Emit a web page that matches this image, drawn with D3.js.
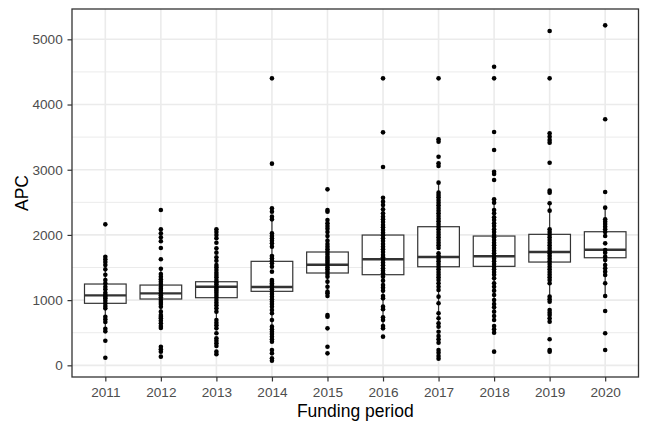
<!DOCTYPE html>
<html><head><meta charset="utf-8">
<script src="https://cdn.jsdelivr.net/npm/d3@7"></script>
<style>body{margin:0;background:#fff}svg{display:block}text{font-family:"Liberation Sans",Arial,Helvetica,sans-serif}</style>
</head><body><div id="chart"></div>
<script>
const categories = ["2011","2012","2013","2014","2015","2016","2017","2018","2019","2020"];
const yTicks = [0,1000,2000,3000,4000,5000];
const yMinor = [500,1500,2500,3500,4500];
// box statistics
const q1  = [951,1017,1037,1135,1416,1390,1512,1518,1584,1650];
const med = [1073,1104,1206,1201,1543,1626,1661,1672,1738,1773];
const q3  = [1247,1231,1282,1595,1738,1998,2126,1983,2009,2049];
// APC values per funding period
const apc2011 = [2162,1666,1626,1585,1539,1472,1390,1309,1257,1206,1165,1114,1079,1053,1027,992,951,910,874,746,705,664,562,521,378,117];
const apc2012 = [2382,2086,2024,1963,1902,1799,1626,1482,1401,1360,1319,1283,1247,1206,1176,1145,1104,1073,1043,1002,971,941,900,823,772,746,721,685,644,603,573,286,245,210,133];
const apc2013 = [2086,2045,1999,1948,1881,1794,1728,1656,1605,1539,1503,1462,1421,1385,1349,1309,1273,1242,1206,1176,1145,1114,1079,1043,1002,961,920,874,823,695,654,613,567,491,414,378,337,297,210,169];
const apc2014 = [4401,3093,2408,2357,2280,2239,2024,1983,1948,1912,1871,1820,1677,1641,1605,1564,1513,1437,1309,1283,1257,1232,1206,1165,1130,1094,1053,1012,976,941,900,849,798,695,593,552,516,481,440,399,363,235,184,107,71];
const apc2015 = [2699,2382,2357,2229,2178,2137,2096,2045,1984,1912,1861,1820,1779,1743,1707,1667,1636,1605,1575,1539,1503,1472,1437,1401,1360,1283,1206,1130,1104,1063,772,746,567,286,184];
const apc2016 = [4401,3573,3042,2571,2510,2459,2392,2331,2280,2239,2198,2152,2116,2075,2035,1994,1948,1907,1861,1820,1779,1738,1692,1656,1615,1575,1534,1488,1452,1411,1360,1299,1232,1191,1145,1063,1027,900,859,736,695,603,567,440];
const apc2017 = [4401,3466,3430,3200,3098,3057,2802,2648,2612,2576,2536,2495,2454,2413,2372,2331,2290,2249,2208,2168,2127,2086,2045,2004,1963,1922,1881,1841,1800,1718,1677,1636,1595,1554,1513,1472,1432,1391,1350,1309,1258,1206,1155,1053,951,798,721,644,593,516,450,399,348,235,194,143,102];
const apc2018 = [4580,4401,3578,3302,2970,2934,2842,2546,2495,2382,2331,2270,2229,2178,2137,2086,2045,1999,1963,1922,1881,1841,1800,1759,1718,1677,1636,1595,1554,1513,1472,1432,1391,1334,1258,1206,1145,1079,1002,941,890,823,757,695,603,552,501,210];
const apc2019 = [5127,4401,3558,3507,3456,3415,3108,2679,2648,2485,2372,2086,2045,2004,1963,1922,1881,1841,1800,1759,1718,1677,1636,1595,1554,1513,1472,1432,1391,1350,1309,1258,1053,1012,976,849,808,772,721,670,399,235,210];
const apc2020 = [5214,3773,2658,2418,2239,2203,2168,2127,2086,2045,1984,1871,1769,1728,1667,1615,1539,1488,1437,1386,1258,1063,833,491,235];
const seriesValues = [apc2011,apc2012,apc2013,apc2014,apc2015,apc2016,apc2017,apc2018,apc2019,apc2020];

const W = 648, H = 432;
const m = {left:72, right:9.5, top:9, bottom:55};
const svg = d3.select("#chart").append("svg").attr("width",W).attr("height",H);
const x = d3.scalePoint().domain(categories).range([m.left, W-m.right]).padding(0.6);
const y = d3.scaleLinear().domain([-179, 5465]).range([H-m.bottom, m.top]);
const pw = W-m.right-m.left, ph = H-m.bottom-m.top;

// grid
const g = svg.append("g");
g.selectAll(".minor").data(yMinor).join("line").attr("x1",m.left).attr("x2",W-m.right)
  .attr("y1",d=>y(d)).attr("y2",d=>y(d)).attr("stroke","#EBEBEB").attr("stroke-width",1);
g.selectAll(".majy").data(yTicks).join("line").attr("x1",m.left).attr("x2",W-m.right)
  .attr("y1",d=>y(d)).attr("y2",d=>y(d)).attr("stroke","#EBEBEB").attr("stroke-width",1.6);
g.selectAll(".majx").data(categories).join("line").attr("y1",m.top).attr("y2",H-m.bottom)
  .attr("x1",d=>x(d)).attr("x2",d=>x(d)).attr("stroke","#EBEBEB").attr("stroke-width",1.6);

// boxplots
const bw = x.step()*0.75;
const boxes = categories.map((c,i)=>{
  const vals = seriesValues[i];
  const iqr = q3[i]-q1[i];
  const lo = d3.min(vals.filter(v=>v>=q1[i]-1.5*iqr));
  const hi = d3.max(vals.filter(v=>v<=q3[i]+1.5*iqr));
  return {c, q1:q1[i], med:med[i], q3:q3[i], lo:Math.min(lo,q1[i]), hi:Math.max(hi,q3[i])};
});
const bg = svg.append("g");
const stroke = "#333333";
bg.selectAll(".wh").data(boxes).join("line").attr("x1",d=>x(d.c)).attr("x2",d=>x(d.c))
  .attr("y1",d=>y(d.q3)).attr("y2",d=>y(d.hi)).attr("stroke",stroke).attr("stroke-width",1.2);
bg.selectAll(".wl").data(boxes).join("line").attr("x1",d=>x(d.c)).attr("x2",d=>x(d.c))
  .attr("y1",d=>y(d.q1)).attr("y2",d=>y(d.lo)).attr("stroke",stroke).attr("stroke-width",1.2);
bg.selectAll(".bx").data(boxes).join("rect").attr("x",d=>x(d.c)-bw/2).attr("width",bw)
  .attr("y",d=>y(d.q3)).attr("height",d=>y(d.q1)-y(d.q3))
  .attr("fill","#fff").attr("stroke",stroke).attr("stroke-width",1.2);
bg.selectAll(".md").data(boxes).join("line").attr("x1",d=>x(d.c)-bw/2).attr("x2",d=>x(d.c)+bw/2)
  .attr("y1",d=>y(d.med)).attr("y2",d=>y(d.med)).attr("stroke",stroke).attr("stroke-width",2.4);

// points
const pts = [];
categories.forEach((c,i)=>seriesValues[i].forEach(v=>pts.push({c,v})));
svg.append("g").selectAll("circle").data(pts).join("circle")
  .attr("cx",d=>x(d.c)).attr("cy",d=>y(d.v)).attr("r",2.3).attr("fill","#000");

// panel border
svg.append("rect").attr("x",m.left).attr("y",m.top).attr("width",pw).attr("height",ph)
  .attr("fill","none").attr("stroke","#333333").attr("stroke-width",1.3);

// axes
const ax = svg.append("g").attr("transform",`translate(0,${H-m.bottom})`)
  .call(d3.axisBottom(x).tickSize(4.5).tickPadding(5.5));
const ay = svg.append("g").attr("transform",`translate(${m.left},0)`)
  .call(d3.axisLeft(y).tickValues(yTicks).tickSize(4.5).tickPadding(4.8).tickFormat(d3.format("d")));
[ax,ay].forEach(a=>{
  a.select(".domain").remove();
  a.selectAll(".tick line").attr("stroke","#333333").attr("stroke-width",1.2);
  a.selectAll(".tick text").attr("fill","#4D4D4D").style("font-size","13.6px").style("font-family",'"Liberation Sans",Arial,sans-serif');
});

svg.append("text").attr("x",m.left+pw/2).attr("y",417).attr("text-anchor","middle")
  .style("font-size","17.5px").attr("fill","#000").text("Funding period");
svg.append("text").attr("transform",`translate(28,${m.top+ph/2}) rotate(-90)`).attr("text-anchor","middle")
  .style("font-size","17.5px").attr("fill","#000").text("APC");
</script></body></html>
